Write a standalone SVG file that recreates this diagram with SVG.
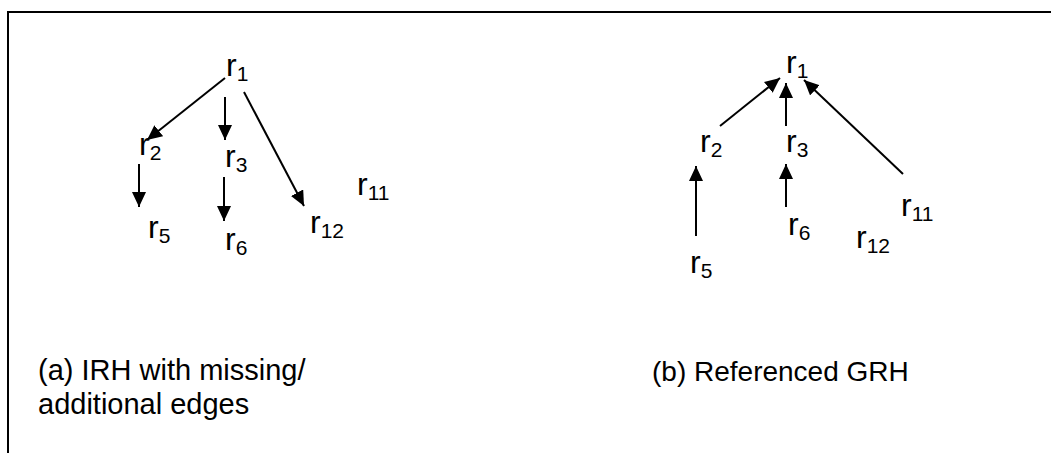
<svg xmlns="http://www.w3.org/2000/svg" width="1051" height="453" viewBox="0 0 1051 453">
<style>
.lbl{font-family:"Liberation Sans",Arial,sans-serif;font-size:32px;fill:#000}
.sub{font-size:21px}
.cap{font-family:"Liberation Sans",Arial,sans-serif;font-size:29px;fill:#000}
.edge{stroke:#000;stroke-width:2;fill:none;marker-end:url(#ah)}
</style>
<defs>
<marker id="ah" markerUnits="userSpaceOnUse" markerWidth="16" markerHeight="14" refX="15" refY="7" orient="auto">
<path d="M0,0 L15,7 L0,14 z" fill="#000"/>
</marker>
</defs>
<rect width="1051" height="453" fill="#fff"/>
<path d="M8,453 V12 H1051" stroke="#000" stroke-width="2" fill="none"/>
<g id="connectors">
<line class="edge" x1="225" y1="78" x2="147" y2="140"/>
<line class="edge" x1="225" y1="97" x2="225" y2="140"/>
<line class="edge" x1="244" y1="92" x2="304" y2="206"/>
<line class="edge" x1="139" y1="164" x2="139" y2="207"/>
<line class="edge" x1="224" y1="177" x2="224" y2="221"/>
<line class="edge" x1="720" y1="126" x2="780" y2="78"/>
<line class="edge" x1="786" y1="126" x2="786" y2="83"/>
<line class="edge" x1="903" y1="174" x2="804" y2="80"/>
<line class="edge" x1="696" y1="236" x2="696" y2="166"/>
<line class="edge" x1="786" y1="207" x2="786" y2="164"/>
</g>
<g id="a-r1"><text class="lbl" x="226" y="76">r<tspan class="sub" dy="5">1</tspan></text></g>
<g id="a-r2"><text class="lbl" x="139" y="155">r<tspan class="sub" dy="5">2</tspan></text></g>
<g id="a-r3"><text class="lbl" x="225" y="167">r<tspan class="sub" dy="5">3</tspan></text></g>
<g id="a-r5"><text class="lbl" x="148" y="238">r<tspan class="sub" dy="5">5</tspan></text></g>
<g id="a-r6"><text class="lbl" x="225" y="250">r<tspan class="sub" dy="5">6</tspan></text></g>
<g id="a-r12"><text class="lbl" x="310" y="233">r<tspan class="sub" dy="5">12</tspan></text></g>
<g id="a-r11"><text class="lbl" x="357" y="195">r<tspan class="sub" dy="5">11</tspan></text></g>
<g id="b-r1"><text class="lbl" x="786" y="73">r<tspan class="sub" dy="5">1</tspan></text></g>
<g id="b-r2"><text class="lbl" x="700" y="152">r<tspan class="sub" dy="5">2</tspan></text></g>
<g id="b-r3"><text class="lbl" x="786" y="152">r<tspan class="sub" dy="5">3</tspan></text></g>
<g id="b-r5"><text class="lbl" x="690" y="273">r<tspan class="sub" dy="5">5</tspan></text></g>
<g id="b-r6"><text class="lbl" x="788" y="235">r<tspan class="sub" dy="5">6</tspan></text></g>
<g id="b-r12"><text class="lbl" x="856" y="248">r<tspan class="sub" dy="5">12</tspan></text></g>
<g id="b-r11"><text class="lbl" x="901" y="216">r<tspan class="sub" dy="5">11</tspan></text></g>
<g id="caption-a"><text class="cap" x="38" y="380">(a) IRH with missing/</text><text class="cap" x="38" y="414">additional edges</text></g>
<g id="caption-b"><text class="cap" x="652" y="381" style="font-size:28px">(b) Referenced GRH</text></g>
</svg>
